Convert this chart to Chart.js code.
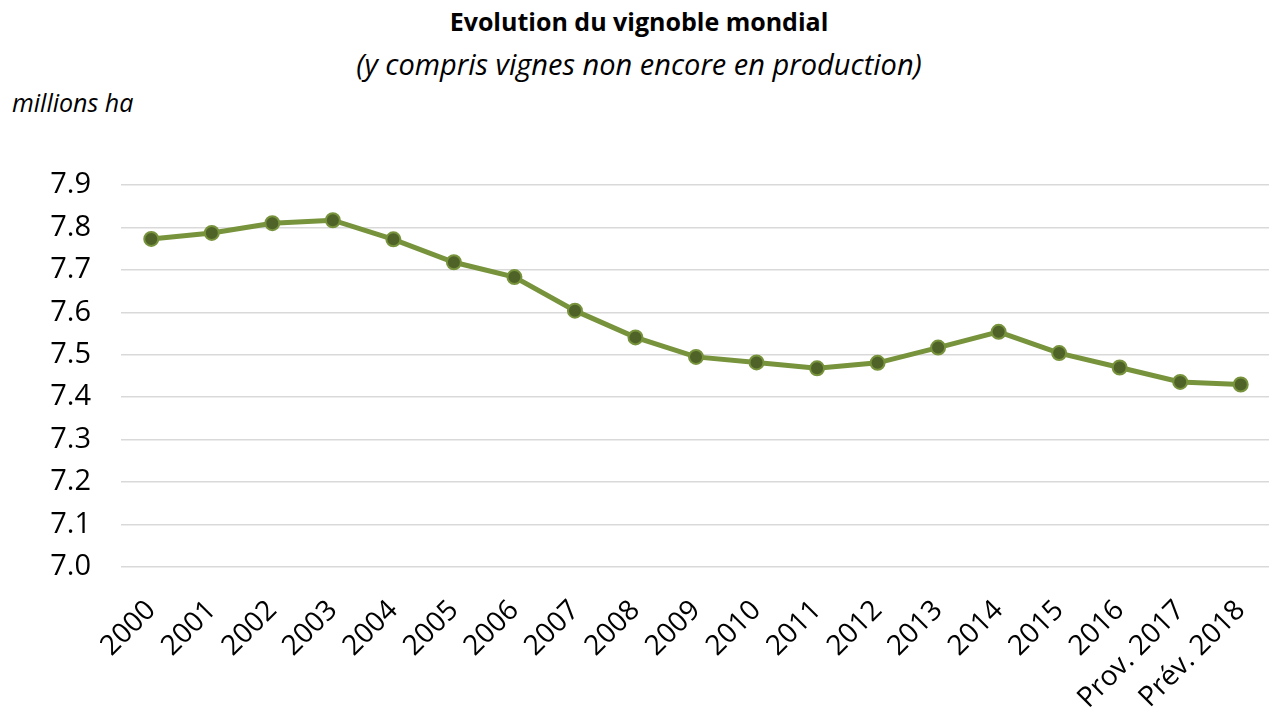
<!DOCTYPE html>
<html>
<head>
<meta charset="utf-8">
<script src="https://cdn.jsdelivr.net/npm/chart.js@4/dist/chart.umd.min.js"></script>
<style>
  html, body { margin: 0; padding: 0; background: #fff; overflow: hidden; }
  body { width: 1269px; height: 711px; position: relative; font-family: 'Open Sans', sans-serif; color: #000; }
  #wrap { position: absolute; left: 0; top: 0; width: 1280px; height: 711px; }
  .title { position: absolute; left: 0; width: 1278px; text-align: center; line-height: 1; }
  #t1 { top: 9px; font-size: 25px; font-weight: bold; }
  #t2 { top: 49px; font-size: 29px; font-style: italic; }
  #unit { position: absolute; left: 12px; top: 87px; font-size: 25px; font-style: italic; line-height: 1.2; }
</style>
</head>
<body>
<div id="t1" class="title">Evolution du vignoble mondial</div>
<div id="t2" class="title">(y compris vignes non encore en production)</div>
<div id="unit">millions ha</div>
<div id="wrap"><canvas id="chart" width="1280" height="711"></canvas></div>
<script>
// Surface of world vineyards, million hectares
const years = ['2000', '2001', '2002', '2003', '2004', '2005', '2006', '2007', '2008', '2009',
  '2010', '2011', '2012', '2013', '2014', '2015', '2016', 'Prov. 2017', 'Prév. 2018'];
const surface = [7.773, 7.787, 7.810, 7.817, 7.772, 7.718, 7.683, 7.604, 7.541, 7.495,
  7.482, 7.468, 7.481, 7.517, 7.554, 7.504, 7.470, 7.436, 7.430];
const yMin = 7.0;
const yMax = 7.9;
const yStep = 0.1;

const ctx = document.getElementById('chart');

new Chart(ctx, {
  type: 'line',
  data: {
    labels: years,
    datasets: [{
      label: 'Vignoble mondial',
      data: surface,
      borderColor: '#77933C',
      borderWidth: 5,
      tension: 0,
      fill: false,
      pointRadius: 7,
      pointBackgroundColor: '#4F6228',
      pointBorderColor: '#77933C',
      pointBorderWidth: 2,
    }]
  },
  options: {
    responsive: false,
    animation: false,
    layout: { padding: { top: 185, right: 4, left: 0, bottom: 0 } },
    plugins: {
      legend: { display: false },
      tooltip: { enabled: false }
    },
    scales: {
      x: {
        offset: true,
        grid: { display: false, drawTicks: false },
        border: { display: false },
        ticks: {
          color: '#000',
          font: { family: 'Open Sans', size: 28 },
          minRotation: 45,
          maxRotation: 45,
          autoSkip: false,
          padding: 27
        },
        afterFit: function(scale) {
          scale.height = 144;
          // keep the plot area full width, labels may overflow
          scale.paddingLeft = 0;
          scale.paddingRight = 0;
        }
      },
      y: {
        min: yMin,
        max: yMax,
        grid: { color: '#D9D9D9', lineWidth: 1.5, drawTicks: false },
        border: { display: false },
        ticks: {
          stepSize: yStep,
          color: '#000',
          font: { family: 'Open Sans', size: 29 },
          padding: 30,
          callback: function(value) { return value.toFixed(1); }
        },
        afterFit: function(scale) { scale.width = 121; }
      }
    }
  }
});
</script>
</body>
</html>
